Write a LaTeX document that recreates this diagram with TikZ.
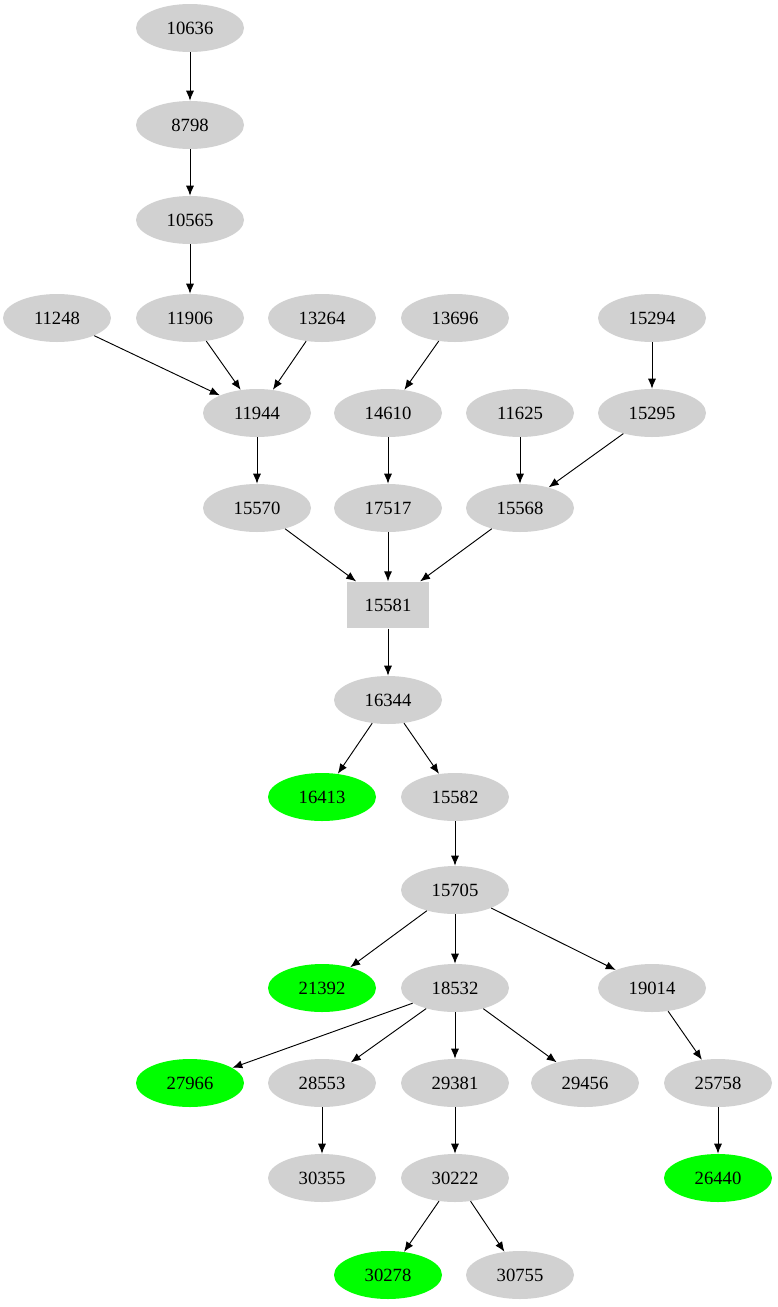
\documentclass[tikz,border=0pt]{standalone}
\usepackage{fontspec}
\setmainfont{Liberation Serif}
\usetikzlibrary{arrows.meta,shapes.geometric}
\begin{document}
\begin{tikzpicture}[x=0.75pt,y=-0.75pt,
    every node/.style={font=\fontsize{14}{16}\selectfont},
    vert/.style={ellipse,fill=black!18,minimum width=81pt,minimum height=36pt,inner sep=0pt},
    leaf/.style={vert,fill=green},
    root/.style={rectangle,fill=black!18,minimum width=62pt,minimum height=35pt,inner sep=0pt},
    edge/.style={-{Latex[length=7.5pt,width=6pt]},line width=0.7pt}]

    \useasboundingbox (0,0) rectangle (778,1307);

    % top part
    \node[vert] (n10636) at (190,28) {10636};
    \node[vert] (n8798) at (190,125) {8798};
    \node[vert] (n10565) at (190,220) {10565};
    \node[vert] (n11248) at (57,318) {11248};
    \node[vert] (n11906) at (190,318) {11906};
    \node[vert] (n13264) at (322,318) {13264};
    \node[vert] (n13696) at (455,318) {13696};
    \node[vert] (n15294) at (652,318) {15294};
    \node[vert] (n11944) at (257,413) {11944};
    \node[vert] (n14610) at (388,413) {14610};
    \node[vert] (n11625) at (520,413) {11625};
    \node[vert] (n15295) at (652,413) {15295};
    \node[vert] (n15570) at (257,508) {15570};
    \node[vert] (n17517) at (388,508) {17517};
    \node[vert] (n15568) at (520,508) {15568};
    \node[root] (n15581) at (388,605) {15581};

    % bottom part
    \node[vert] (n16344) at (388,700) {16344};
    \node[leaf] (n16413) at (322,797) {16413};
    \node[vert] (n15582) at (455,797) {15582};
    \node[vert] (n15705) at (455,890) {15705};
    \node[leaf] (n21392) at (322,988) {21392};
    \node[vert] (n18532) at (455,988) {18532};
    \node[vert] (n19014) at (652,988) {19014};
    \node[leaf] (n27966) at (190,1083) {27966};
    \node[vert] (n28553) at (322,1083) {28553};
    \node[vert] (n29381) at (455,1083) {29381};
    \node[vert] (n29456) at (585,1083) {29456};
    \node[vert] (n25758) at (718,1083) {25758};
    \node[vert] (n30355) at (322,1178) {30355};
    \node[vert] (n30222) at (455,1178) {30222};
    \node[leaf] (n26440) at (718,1178) {26440};
    \node[leaf] (n30278) at (388,1275) {30278};
    \node[vert] (n30755) at (520,1275) {30755};

    \foreach \a/\b in {10636/8798,8798/10565,10565/11906,11248/11944,11906/11944,
        13264/11944,13696/14610,15294/15295,11944/15570,14610/17517,11625/15568,
        15295/15568,15570/15581,17517/15581,15568/15581,15581/16344,16344/16413,
        16344/15582,15582/15705,15705/21392,15705/18532,15705/19014,18532/27966,
        18532/28553,18532/29381,18532/29456,19014/25758,28553/30355,29381/30222,
        25758/26440,30222/30278,30222/30755}
      \draw[edge] (n\a) -- (n\b);

\end{tikzpicture}
\end{document}
